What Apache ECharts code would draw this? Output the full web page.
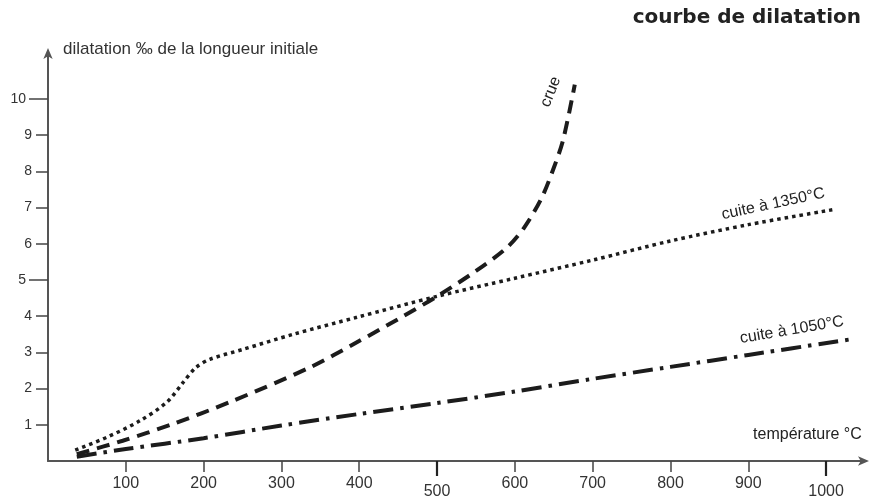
<!DOCTYPE html>
<html><head><meta charset="utf-8">
<script src="https://cdn.jsdelivr.net/npm/echarts@6/dist/echarts.min.js"></script>
<style>html,body{margin:0;padding:0;background:#fff}#c{width:876px;height:500px}</style>
</head><body><div id="c"></div>
<script>
// tick labels
const xTicks = [100, 200, 300, 400, 500, 600, 700, 800, 900, 1000];
const yTicks = [1, 2, 3, 4, 5, 6, 7, 8, 9, 10];
const xLongTicks = [500, 1000];
const yLongTicks = [5, 10];

// crue (dashed)
const crueT = [37, 96, 160, 234, 337, 397, 450, 500, 550, 590, 612, 634, 649, 662, 677];
const crueV = [0.19, 0.56, 1.02, 1.63, 2.59, 3.28, 3.92, 4.55, 5.25, 5.9, 6.45, 7.25, 8.04, 8.87, 10.4];

// cuite à 1350°C (dotted)
const c1350T = [35, 75, 118, 153, 174, 190, 208, 250, 315, 397, 500, 600, 700, 800, 900, 1008];
const c1350V = [0.3, 0.65, 1.11, 1.63, 2.18, 2.58, 2.81, 3.08, 3.5, 3.97, 4.55, 5.05, 5.55, 6.08, 6.53, 6.94];

// cuite à 1050°C (dash-dot)
const c1050T = [37, 100, 200, 300, 400, 500, 600, 700, 800, 900, 1031];
const c1050V = [0.12, 0.33, 0.63, 0.98, 1.3, 1.6, 1.92, 2.27, 2.6, 2.93, 3.36];

const zip = (a, b) => a.map((v, i) => [v, b[i]]);
const FONT = '"Liberation Sans", Arial, Helvetica, sans-serif';
const INK = '#1c1c1c';

const chart = echarts.init(document.getElementById('c'), null, {renderer: 'canvas'});

const axisCommonX = {type: 'value', min: 0, max: 1050, splitLine: {show: false}};
const axisCommonY = {type: 'value', min: 0, max: 11.3, splitLine: {show: false}};

chart.setOption({
  animation: false,
  backgroundColor: '#fff',
  title: {
    text: 'courbe de dilatation',
    right: 10, top: 3,
    textStyle: {fontFamily: '"DejaVu Sans", sans-serif', fontSize: 20, fontWeight: 'bold', color: '#222'}
  },
  grid: {left: 48, right: 11, top: 52, bottom: 38, containLabel: false},
  xAxis: [
    Object.assign({}, axisCommonX, {
      axisLine: {show: true, lineStyle: {color: '#555', width: 2}, symbol: ['none', 'arrow'], symbolSize: [7, 11], symbolOffset: [0, 4]},
      axisTick: {show: true, customValues: xTicks, length: 11, lineStyle: {color: '#444', width: 1.5}},
      axisLabel: {
        customValues: xTicks, margin: 15, fontSize: 16, color: '#333', fontFamily: FONT,
        formatter: v => (xLongTicks.indexOf(v) >= 0 ? '{low|' + v + '}' : '' + v),
        rich: {low: {padding: [8, 0, 0, 0], fontSize: 16, color: '#333', fontFamily: FONT}}
      }
    }),
    Object.assign({}, axisCommonX, {
      position: 'bottom',
      axisLine: {show: false},
      axisTick: {show: true, customValues: xLongTicks, length: 15, lineStyle: {color: '#222', width: 2.2}},
      axisLabel: {show: false}
    })
  ],
  yAxis: [
    Object.assign({}, axisCommonY, {
      axisLine: {show: true, lineStyle: {color: '#555', width: 2}, symbol: ['none', 'arrow'], symbolSize: [7, 11], symbolOffset: [0, 4]},
      axisTick: {show: true, customValues: yTicks, length: 12, lineStyle: {color: '#444', width: 1.5}},
      axisLabel: {customValues: yTicks, margin: 16, fontSize: 14, color: '#333', fontFamily: FONT,
        formatter: v => (yLongTicks.indexOf(v) >= 0 ? '{far|' + v + '}' : '' + v),
        rich: {far: {padding: [0, 6, 0, 0], fontSize: 14, color: '#333', fontFamily: FONT}}
      }
    }),
    Object.assign({}, axisCommonY, {
      position: 'left',
      axisLine: {show: false},
      axisTick: {show: true, customValues: yLongTicks, length: 19, lineStyle: {color: '#444', width: 1.5}},
      axisLabel: {show: false}
    })
  ],
  series: [
    {
      name: 'crue', type: 'line', data: zip(crueT, crueV), showSymbol: false,
      smooth: 0.3,
      lineStyle: {color: INK, width: 4, type: [13, 8], cap: 'butt'}
    },
    {
      name: 'cuite à 1350°C', type: 'line', data: zip(c1350T, c1350V), showSymbol: false,
      smooth: 0.3,
      lineStyle: {color: INK, width: 3.5, type: [3.5, 4], cap: 'butt'}
    },
    {
      name: 'cuite à 1050°C', type: 'line', data: zip(c1050T, c1050V), showSymbol: false,
      smooth: 0.3,
      lineStyle: {color: INK, width: 4, type: [20, 7, 3.5, 7], cap: 'butt'}
    }
  ]
});

// annotation texts, positioned in data space
const notes = [
  {text: 'crue', at: [646, 10.2], rot: 68},
  {text: 'cuite à 1350°C', at: [932, 7.1], rot: 12},
  {text: 'cuite à 1050°C', at: [956, 3.62], rot: 9.5},
  {text: 'température °C', at: [976, 0.74], rot: 0}
];
const graphics = notes.map(n => {
  const p = chart.convertToPixel({xAxisIndex: 0, yAxisIndex: 0}, n.at);
  return {
    type: 'text', x: p[0], y: p[1], rotation: n.rot * Math.PI / 180,
    style: {text: n.text, fontSize: 16, fontFamily: FONT, fill: '#222', align: 'center', verticalAlign: 'middle'}
  };
});
graphics.push({
  type: 'text', left: 63, top: 41,
  style: {text: 'dilatation ‰ de la longueur initiale', fontSize: 17, fontFamily: FONT, fill: '#333'}
});
chart.setOption({graphic: graphics});
</script>
</body></html>
